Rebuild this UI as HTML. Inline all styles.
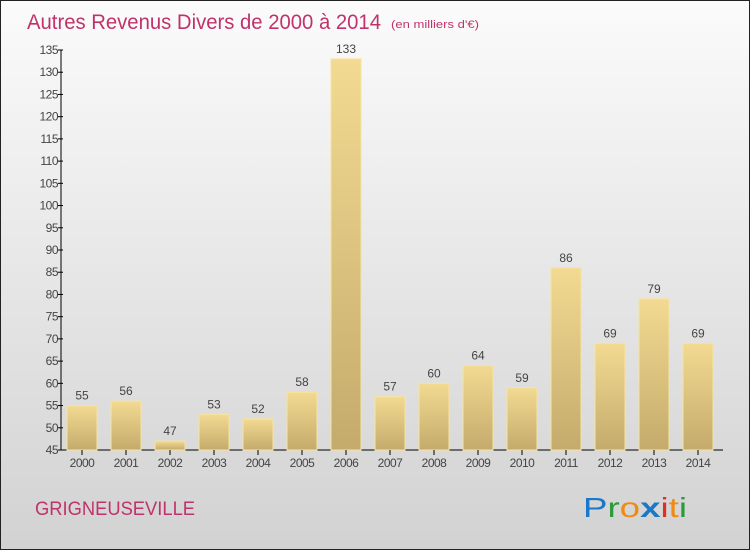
<!DOCTYPE html>
<html><head><meta charset="utf-8"><style>
body{margin:0}
#c{width:748px;height:548px;border:1px solid #222;position:relative;background:linear-gradient(#fbfbfb,#d2d2d2);font-family:"Liberation Sans",sans-serif;overflow:hidden}
</style></head><body>
<div id="c">
<svg width="748" height="548" id="s">
<defs><linearGradient id="g" x1="0" y1="0" x2="0" y2="1"><stop offset="0" stop-color="#f3da92"/><stop offset="1" stop-color="#c4ab6c"/></linearGradient></defs>
<text x="26" y="28" font-size="21" fill="#c0336a" textLength="354" lengthAdjust="spacingAndGlyphs">Autres Revenus Divers de 2000 à 2014</text>
<text x="390" y="27" font-size="11" fill="#c0336a" textLength="88" lengthAdjust="spacingAndGlyphs">(en milliers d'€)</text>
<text x="34" y="514" font-size="19" fill="#c0336a" textLength="160" lengthAdjust="spacingAndGlyphs">GRIGNEUSEVILLE</text>
<text x="582" y="516" font-size="28" textLength="104" lengthAdjust="spacingAndGlyphs"><tspan fill="#1a78c8">P</tspan><tspan fill="#2a9a3a">r</tspan><tspan fill="#f08a10">o</tspan><tspan fill="#1a78c8" font-weight="bold">x</tspan><tspan fill="#e03020">i</tspan><tspan fill="#f08a10">t</tspan><tspan fill="#2a9a3a">i</tspan></text>
<g id="plot"></g>
</svg></div>
<script>
const years=["2000","2001","2002","2003","2004","2005","2006","2007","2008","2009","2010","2011","2012","2013","2014"];
const values=[55,56,47,53,52,58,133,57,60,64,59,86,69,79,69];
const ticks=[45,50,55,60,65,70,75,80,85,90,95,100,105,110,115,120,125,130,135];
const ns="http://www.w3.org/2000/svg";
const p=document.getElementById('plot');
const y=v=>449-(v-45)*400/90;
const x=i=>81+i*44;
function mk(t,a){const e=document.createElementNS(ns,t);for(const k in a)e.setAttribute(k,a[k]);p.appendChild(e);return e;}
const ax=mk('line',{x1:60,y1:49,x2:60,y2:449,stroke:'#000'});


const xa=mk('line',{x1:60,y1:449,x2:722,y2:449,stroke:'#000'});


ticks.forEach(t=>{
 const l=mk('line',{x1:57,x2:62,y1:y(t),y2:y(t),stroke:'#000'});
 
 
 const tx=mk('text',{x:57,y:y(t)+4,'font-size':12,'text-anchor':'end',fill:'#444','letter-spacing':'-0.5'});
 tx.textContent=t;
 
 
});
values.forEach((v,i)=>{
 const r=mk('rect',{x:x(i)-15,y:y(v),width:30,height:449-y(v),fill:'url(#g)',stroke:'#f6e3a0','stroke-width':1});
 
 
 const vl=mk('text',{x:x(i),y:y(v)-6,'font-size':12,'text-anchor':'middle',fill:'#444'});
 vl.textContent=v;
 
 
 const tk=mk('line',{x1:x(i),x2:x(i),y1:449,y2:454,stroke:'#000'});
 
 
 const xl=mk('text',{x:x(i),y:466,'font-size':12,'text-anchor':'middle',fill:'#444','letter-spacing':'-0.5'});
 xl.textContent=years[i];
 
 
});
</script>
</body></html>
